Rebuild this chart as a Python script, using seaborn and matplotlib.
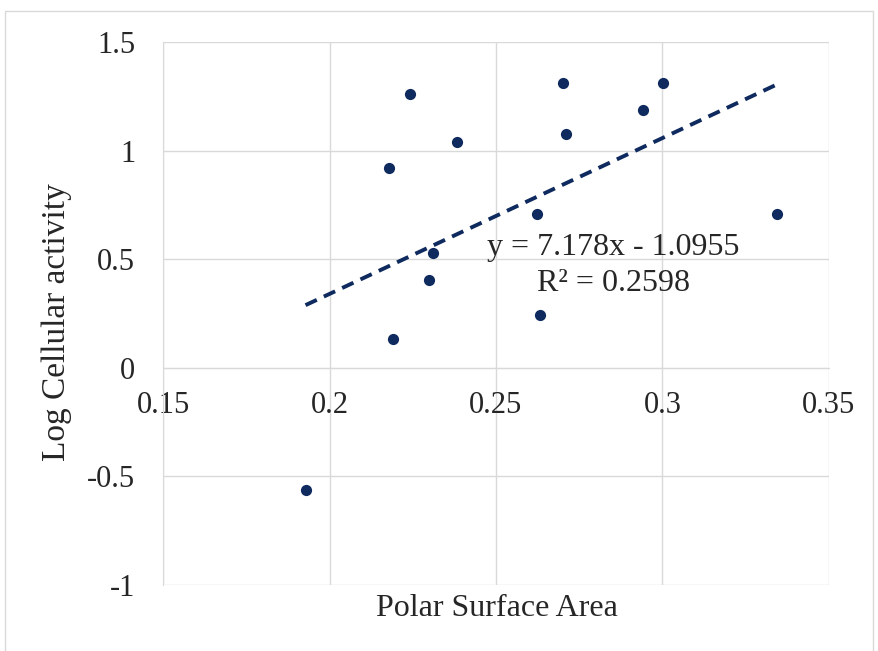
import seaborn as sns
import matplotlib.pyplot as plt
import numpy as np
import pandas as pd
from matplotlib.patches import Rectangle

# values
polar_surface_area = [0.1928, 0.2190, 0.2178, 0.2241, 0.2298, 0.2310, 0.2383,
                      0.2623, 0.2633, 0.2702, 0.2711, 0.2940, 0.3003, 0.3343]
log_activity = [-0.561, 0.133, 0.920, 1.260, 0.405, 0.529, 1.040,
                0.708, 0.244, 1.311, 1.076, 1.187, 1.311, 0.708]
# trendline as printed on the chart
slope = 7.178
intercept = -1.0955
r_squared = 0.2598

x_ticks = [0.15, 0.2, 0.25, 0.3, 0.35]
x_tick_labels = ["0.15", "0.2", "0.25", "0.3", "0.35"]
y_ticks = [-1, -0.5, 0, 0.5, 1, 1.5]
y_tick_labels = ["-1", "-0.5", "0", "0.5", "1", "1.5"]

navy = "#0e2a5e"
grid_grey = "#d9d9d9"

sns.set_style("white")
plt.rcParams['font.family'] = ['Liberation Serif', 'DejaVu Serif']

df = pd.DataFrame({"psa": polar_surface_area, "act": log_activity})

fig = plt.figure(figsize=(8.79, 6.51), dpi=100)
ax = fig.add_axes([163/879, 1-585/651, (829-163)/879, (585-42)/651])

#trend line from the printed equation, over the data range
x_fit = np.array([min(polar_surface_area), max(polar_surface_area)])
fit = pd.DataFrame({"psa": x_fit, "act": slope*x_fit + intercept})
sns.lineplot(data=fit, x="psa", y="act", ax=ax, color=navy, linewidth=2.8,
             dashes=False, zorder=3)
ax.lines[-1].set_dashes([3.2, 2.0])

sns.scatterplot(data=df, x="psa", y="act", ax=ax, color=navy, s=65,
                edgecolor=navy, linewidth=0, zorder=4)

ax.set_xlim(0.15, 0.35)
ax.set_ylim(-1, 1.5)
ax.set_xticks(x_ticks)
ax.set_xticklabels(x_tick_labels)
ax.set_yticks(y_ticks)
ax.set_yticklabels(y_tick_labels)
ax.grid(True, color=grid_grey, linewidth=1)
ax.set_axisbelow(True)

for side in ["top", "right"]:
    ax.spines[side].set_visible(False)
ax.spines["bottom"].set_position(("data", 0))
ax.spines["bottom"].set_color(grid_grey)
ax.spines["left"].set_color(grid_grey)
ax.tick_params(axis="both", length=0, labelsize=22)
ax.tick_params(axis="x", pad=17)
ax.tick_params(axis="y", pad=20)

ax.set_xlabel("")
ax.set_ylabel("")
fig.text(497/879, 1-609/651, "Polar Surface Area", ha="center", va="center",
         fontsize=23)
fig.text(57/879, 1-322/651, "Log Cellular activity", ha="center", va="center",
         rotation=90, fontsize=24)

ax.text(0.2852, 0.47, "y = 7.178x - 1.0955\nR² = %.4f" % r_squared,
        ha="center", va="center", fontsize=23, linespacing=1.3, zorder=5)

# outer chart border
fig.patches.append(Rectangle((5/879, -0.01), (873-5)/879, 1-11/651+0.01,
                             transform=fig.transFigure, fill=False,
                             edgecolor=grid_grey, linewidth=1))

fig.savefig("out.png", dpi=100)
